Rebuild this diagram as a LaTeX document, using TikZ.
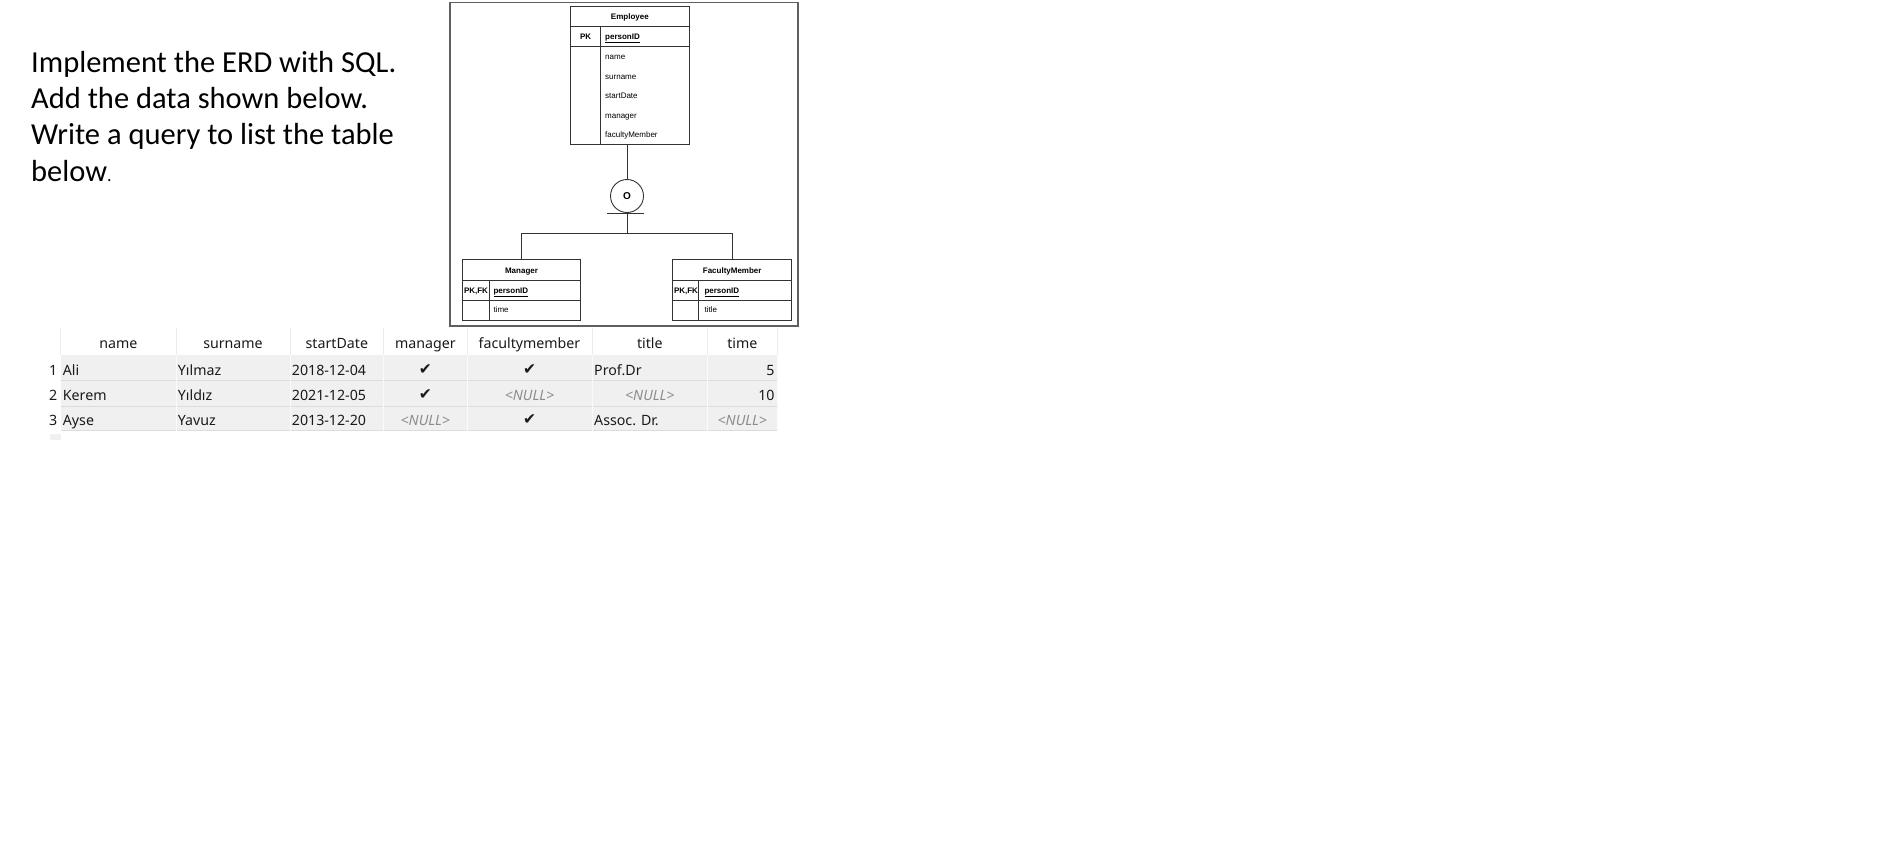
\documentclass[tikz,border=0pt]{standalone}
\usepackage{fontspec}
\setmainfont{Carlito}
\newfontfamily\arialf{Liberation Sans}
\newfontfamily\tblf{Noto Sans}
\newfontfamily\symf{DejaVu Sans}
\definecolor{rowbg}{HTML}{F0F0F0}
\definecolor{rowsep}{HTML}{DCDCDC}
\definecolor{hdrsep}{HTML}{EBEBEB}
\definecolor{colsep}{HTML}{FAFAFA}
\definecolor{nullc}{HTML}{8C8C8C}
\definecolor{framec}{HTML}{5F5F5F}
\definecolor{erdline}{HTML}{333333}
\definecolor{tbltext}{HTML}{1A1A1A}
\begin{document}
\begin{tikzpicture}[x=1pt,y=-1pt,
  ins/.style={font=\fontsize{30.5}{36}\selectfont, anchor=base west, inner sep=0pt},
  ebox/.style={draw=erdline, line width=0.9pt, inner sep=0pt, rectangle},
  eln/.style={draw=erdline, line width=0.9pt},
  etxt/.style={font=\arialf\fontsize{8}{9}\selectfont, inner sep=0pt, anchor=base west},
  ebold/.style={font=\arialf\bfseries\fontsize{8}{9}\selectfont, inner sep=0pt, anchor=base},
  tbl/.style={font=\tblf\fontsize{14.2}{17}\selectfont, inner sep=0pt, text=tbltext},
  th/.style={tbl, anchor=base},
  tdl/.style={tbl, anchor=base west},
  tdr/.style={tbl, anchor=base east},
  nul/.style={anchor=base, inner sep=0pt, font=\tblf\itshape\fontsize{14.2}{17}\selectfont, text=nullc},
  chk/.style={anchor=base, inner sep=0pt, font=\symf\fontsize{15.5}{17}\selectfont, text=tbltext}
]
\useasboundingbox (0,0) rectangle (1904,849);
\fill[white] (0,0) rectangle (1904,849);

% ---------- instruction text ----------
\node[ins] (l1) at (31,72) {Implement the ERD with SQL.};
\node[ins] (l2) at (31,108.4) {Add the data shown below.};
\node[ins] (l3) at (31,144.8) {Write a query to list the table};
\node[ins] (l4) at (31,181.2) {below{\fontsize{18}{20}\selectfont .}};

% ---------- ERD frame ----------
\draw[framec, line width=1.3pt] (450,2.5) rectangle (798,326);

% Employee
\node[ebox, minimum width=118.3pt, minimum height=138.3pt] (emp) at (629.85,75.15) {};
\draw[eln] (570.7,26) -- (689,26);
\draw[eln] (570.7,46.7) -- (689,46.7);
\draw[eln] (600.7,26) -- (600.7,144.3);
\node[ebold] (empT) at (629.85,19.3) {Employee};
\node[ebold] (empPK) at (585.7,39.3) {PK};
\node[etxt, font=\arialf\bfseries\fontsize{8}{9}\selectfont] (empID) at (605,39.3) {\underline{personID}};
\node[etxt] (ea1) at (605,59.4) {name};
\node[etxt] (ea2) at (605,79) {surname};
\node[etxt] (ea3) at (605,98.6) {startDate};
\node[etxt] (ea4) at (605,118.2) {manager};
\node[etxt] (ea5) at (605,137.8) {facultyMember};

% disjoint circle
\node[draw=erdline, line width=0.9pt, circle, minimum size=33pt, inner sep=0pt,
      font=\arialf\bfseries\fontsize{10}{12}\selectfont] (circ) at (627,196) {O};
\coordinate (barL) at (607,213.3);
\coordinate (barR) at (644,213.3);
\draw[eln] (barL) -- (barR);
\draw[eln] (emp.south -| circ.center) -- (circ.north);
\coordinate (junc) at (627,233.3);
\draw[eln] (circ.south) -- (junc);

% Manager
\node[ebox, minimum width=118.4pt, minimum height=60.7pt] (mgr) at (521.5,289.65) {};
\draw[eln] (462.3,280) -- (580.7,280);
\draw[eln] (462.3,300) -- (580.7,300);
\draw[eln] (489,280) -- (489,320);
\node[ebold] (mgrT) at (521.5,273) {Manager};
\node[ebold] (mgrPK) at (476,293) {PK,FK};
\node[etxt, font=\arialf\bfseries\fontsize{8}{9}\selectfont] (mgrID) at (493.3,293) {\underline{personID}};
\node[etxt] (mgrA) at (493.3,312.7) {time};

% FacultyMember
\node[ebox, minimum width=119pt, minimum height=60.7pt] (fac) at (732.2,289.65) {};
\draw[eln] (672.7,280) -- (791.7,280);
\draw[eln] (672.7,300) -- (791.7,300);
\draw[eln] (698.3,280) -- (698.3,320);
\node[ebold] (facT) at (732.2,273) {FacultyMember};
\node[ebold] (facPK) at (686,293) {PK,FK};
\node[etxt, font=\arialf\bfseries\fontsize{8}{9}\selectfont] (facID) at (704.3,293) {\underline{personID}};
\node[etxt] (facA) at (704.3,312.7) {title};

\coordinate (jm) at (521.5,233.3);
\coordinate (jf) at (732.2,233.3);
\draw[eln] (jm) -- (jf);
\draw[eln] (jm) -- (jm |- mgr.north);
\draw[eln] (jf) -- (jf |- fac.north);

% ---------- result table ----------
\fill[rowbg] (60.7,355) rectangle (777,430.7);
\fill[rowbg] (50,434) rectangle (60.7,440);
\foreach \yy in {380,406,430.7} \draw[rowsep, line width=0.8pt] (60.7,\yy) -- (777,\yy);
\foreach \xx in {176,290,383.7,467,592,707.7,777} {
  \draw[hdrsep, line width=0.8pt] (\xx,328) -- (\xx,355);
  \draw[colsep, line width=0.8pt] (\xx,355) -- (\xx,430.7);
}
\draw[hdrsep, line width=0.8pt] (60.7,328) -- (60.7,355);

% header
\node[th] (h1) at (118.35,348.3) {name};
\node[th] (h2) at (233,348.3) {surname};
\node[th] (h3) at (336.85,348.3) {startDate};
\node[th] (h4) at (425.35,348.3) {manager};
\node[th] (h5) at (529.5,348.3) {facultymember};
\node[th] (h6) at (649.85,348.3) {title};
\node[th] (h7) at (742.35,348.3) {time};

% row numbers
\node[tdr] (n1) at (57.5,375) {1};
\node[tdr] (n2) at (57.5,400.3) {2};
\node[tdr] (n3) at (57.5,425.5) {3};

% row 1
\node[tdl] (r1c1) at (62.7,375) {Ali};
\node[tdl] (r1c2) at (177.7,375) {Yılmaz};
\node[tdl] (r1c3) at (291.7,375) {2018-12-04};
\node[chk] (r1c4) at (425.35,374) {✔};
\node[chk] (r1c5) at (529.5,374) {✔};
\node[tdl] (r1c6) at (594,375) {Prof.Dr};
\node[tdr] (r1c7) at (774.7,375) {5};

% row 2
\node[tdl] (r2c1) at (62.7,400.3) {Kerem};
\node[tdl] (r2c2) at (177.7,400.3) {Yıldız};
\node[tdl] (r2c3) at (291.7,400.3) {2021-12-05};
\node[chk] (r2c4) at (425.35,399.3) {✔};
\node[nul] (r2c5) at (529.5,400.3) {<NULL>};
\node[nul] (r2c6) at (649.85,400.3) {<NULL>};
\node[tdr] (r2c7) at (774.7,400.3) {10};

% row 3
\node[tdl] (r3c1) at (62.7,425.5) {Ayse};
\node[tdl] (r3c2) at (177.7,425.5) {Yavuz};
\node[tdl] (r3c3) at (291.7,425.5) {2013-12-20};
\node[nul] (r3c4) at (425.35,425.5) {<NULL>};
\node[chk] (r3c5) at (529.5,424.5) {✔};
\node[tdl] (r3c6) at (594,425.5) {Assoc. Dr.};
\node[nul] (r3c7) at (742.35,425.5) {<NULL>};
\end{tikzpicture}
\end{document}
